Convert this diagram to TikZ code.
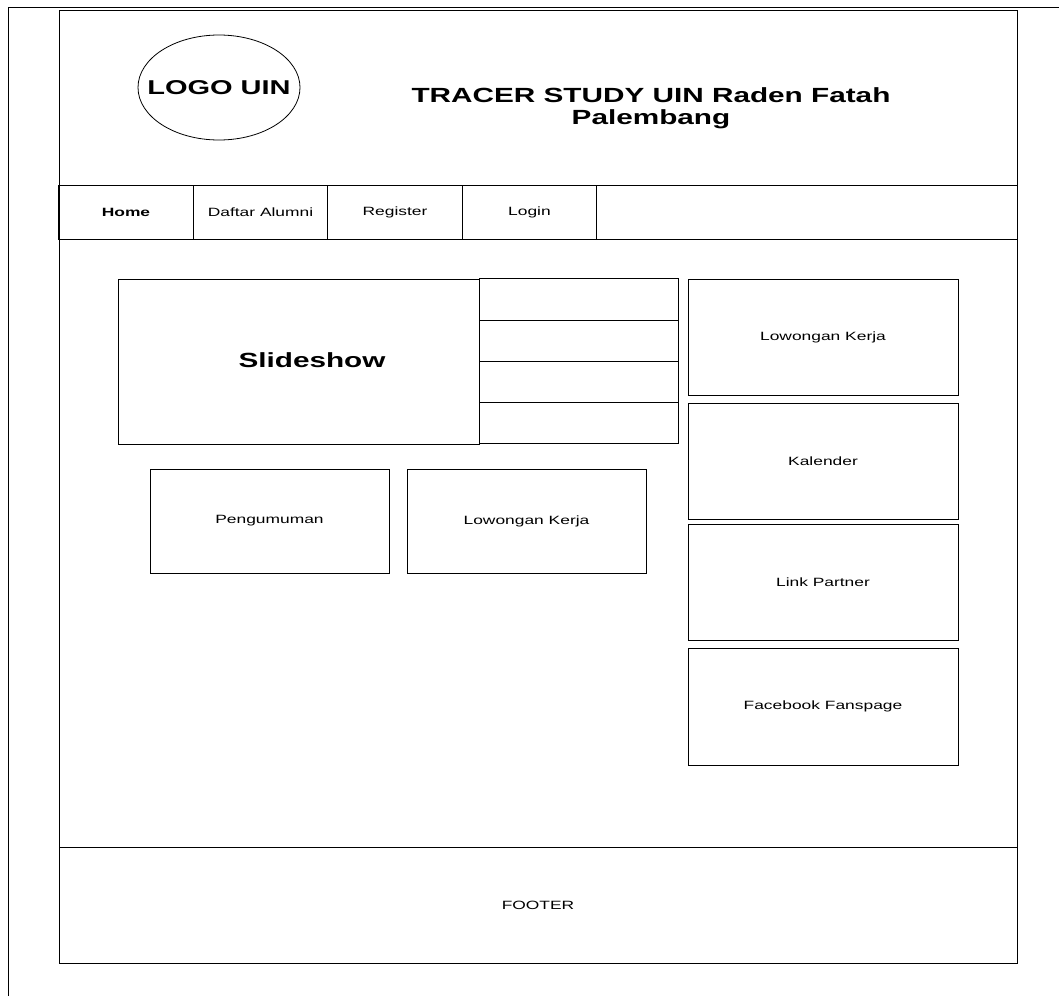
\documentclass[tikz,border=0pt]{standalone}
\usepackage{fontspec}
\setmainfont{Liberation Sans}
\newfontfamily\wireface[FakeStretch=1.45]{Liberation Sans}
\usetikzlibrary{shapes.geometric,positioning}

\begin{document}
\begin{tikzpicture}[x=1pt, y=-1pt,
    box/.style={rectangle, draw, line width=1pt, inner sep=0pt, outer sep=0pt, font=\wireface\fontsize{12}{14}\selectfont},
    menu/.style={box, minimum width=134.5, minimum height=54},
    side/.style={box, minimum width=270, minimum height=116},
    row/.style={box, minimum width=199, minimum height=41.25},
    big/.style={font=\wireface\bfseries\fontsize{20.5}{22.5}\selectfont}
]
\useasboundingbox (0,0) rectangle (1059,996);
\draw[line width=0.8pt] (8,996) -- (8,7) -- (1059,7);

% page frame
\node[box, minimum width=958, minimum height=953] (page) at (538,486.5) {};
\node[box, minimum width=958, minimum height=175] (header) at (538,97.5) {};
\node[box, minimum width=958, minimum height=54] (navbar) at (538,212) {};
\node[box, minimum width=958, minimum height=116] (footer) at (538,905) {FOOTER};

% header
\node[ellipse, draw, line width=0.8pt, minimum width=162, minimum height=105, inner sep=0pt] (logo) at (219,87.5) {};
\node[font=\wireface\bfseries\fontsize{20}{22}\selectfont] (logotext) at (logo.center) {LOGO UIN};
\node[big, align=center] (title) at (651,108) {TRACER STUDY UIN Raden Fatah\\Palembang};

% menu
\node[menu, font=\wireface\bfseries\fontsize{12}{14}\selectfont] (home) at (126,212) {Home};
\node[menu, right=0pt of home] (daftar) {Daftar Alumni};
\node[menu, right=0pt of daftar] (register) {Register};
\node[menu, right=0pt of register] (login) {Login};

% slideshow
\node[box, minimum width=361, minimum height=165] (slide) at (298.5,361.5) {};
\node[big] (slidelabel) at (312,360) {Slideshow};
\node[row] (row1) at (578.5,299.6) {};
\node[row, below=0pt of row1] (row2) {};
\node[row, below=0pt of row2] (row3) {};
\node[row, below=0pt of row3] (row4) {};

\node[box, minimum width=239, minimum height=104] (pengumuman) at (269.5,521) {Pengumuman};
\node[box, minimum width=239, minimum height=104] (lokerb) at (526.5,521) {Lowongan Kerja};

% sidebar
\node[side] (loker) at (823,337) {Lowongan Kerja};
\node[side] (kalender) at (823,461) {Kalender};
\node[side] (partner) at (823,582) {Link Partner};
\node[side, minimum height=117] (fanspage) at (823,706.5) {Facebook Fanspage};

\end{tikzpicture}
\end{document}
